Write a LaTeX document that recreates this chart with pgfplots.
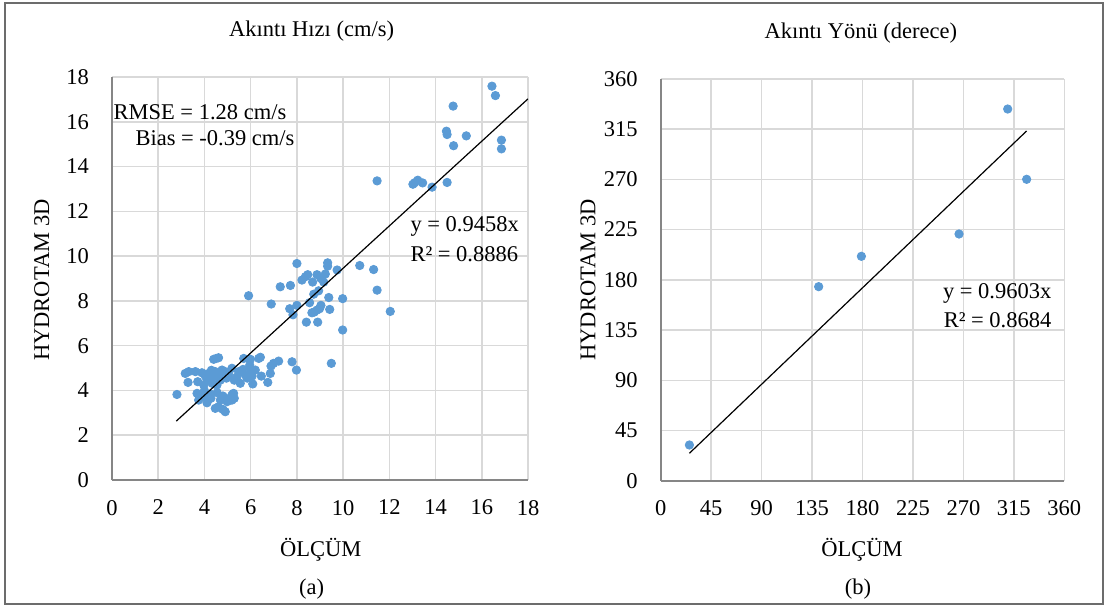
\documentclass[border=0pt]{standalone}
\usepackage{pgfplots}
\pgfplotsset{compat=1.18}
\usepackage{fontspec}
\setmainfont{Liberation Serif}
\definecolor{ptblue}{HTML}{5B9BD5}
\definecolor{gridc}{HTML}{D9D9D9}
\definecolor{axc}{HTML}{868686}
\pgfplotsset{
  common/.style={
    scale only axis,
    axis x line*=bottom, axis y line*=left,
    axis line style={draw=axc, line width=1pt, -},
    grid=major,
    major grid style={draw=gridc, line width=0.75pt},
    major tick length=0pt,
    tick style={draw=none},
    /pgf/number format/assume math mode=true,
    xticklabel style={yshift=-6.5pt},
    yticklabel style={xshift=-8pt},
    title style={anchor=center},
    clip mode=individual,
  }
}
\begin{document}
\begin{tikzpicture}[font=\fontsize{11.25}{13}\selectfont]
\path[use as bounding box] (0,0) rectangle (553pt,302.5pt);
\draw[draw=gray!85!black, line width=0.9pt] (2.65pt,0.45pt) rectangle (551.6pt,300.85pt);

\begin{axis}[common,
  at={(56pt,62.5pt)}, anchor=south west,
  width=208pt, height=201.5pt,
  xmin=0, xmax=18, ymin=0, ymax=18,
  xtick={0,2,...,18}, ytick={0,2,...,18},
  title={Akıntı Hızı (cm/s)},
  title style={at={(axis description cs:0.4796,1.084)}},
  xlabel={ÖLÇÜM},
  xlabel style={at={(axis description cs:0.502,-0.174)}, anchor=center},
  ylabel={HYDROTAM 3D},
  ylabel style={at={(axis description cs:-0.169,0.496)}, anchor=center, rotate=0},
]
\addplot[only marks, mark=*, mark size=2.1pt, mark options={draw=ptblue, fill=ptblue}] coordinates {
(16.44,17.59) (16.59,17.17) (14.76,16.70) (14.47,15.58) (14.50,15.43) (15.33,15.37)
(14.78,14.93) (16.85,15.18) (16.85,14.79)
(11.47,13.36) (13.02,13.21) (13.10,13.28) (13.23,13.39) (13.44,13.27) (13.85,13.08) (14.50,13.29)
(8.00,9.67) (9.33,9.70) (9.33,9.55) (9.74,9.38) (10.72,9.58) (11.32,9.40)
(9.23,9.20) (8.87,9.17) (8.47,9.17) (8.37,9.08) (8.22,8.93) (9.04,9.00) (9.16,8.84)
(8.68,8.84) (7.72,8.69) (7.28,8.63) (8.94,8.45) (8.73,8.30) (11.47,8.48) (5.91,8.23)
(9.38,8.15) (9.98,8.10) (8.55,7.92) (6.89,7.86) (8.00,7.80) (7.69,7.65) (9.04,7.80)
(8.98,7.65) (9.42,7.62) (8.87,7.59) (8.65,7.47) (12.04,7.53) (7.83,7.38) (8.41,7.05)
(8.90,7.05) (9.98,6.70) (8.75,7.50)
(7.79,5.28) (7.98,4.91) (9.49,5.21) (7.21,5.31) (6.99,5.21) (6.88,5.09) (6.85,4.76)
(6.74,4.36) (6.46,4.64) (6.42,5.48) (6.35,5.43) (6.20,4.91) (6.06,4.64) (6.09,4.29)
(5.99,5.39) (5.96,5.13) (5.70,5.43) (5.67,4.94) (5.77,4.69) (5.55,4.32) (5.48,4.84)
(5.29,4.46) (5.19,4.99) (4.90,4.84) (4.51,5.43) (4.61,5.46) (4.40,5.39) (5.40,4.60)
(5.05,4.70) (5.60,4.85) (5.85,4.55) (6.00,4.95)
(3.17,4.76) (3.32,4.84) (3.61,4.84) (3.29,4.36) (3.71,4.39) (3.89,4.79) (4.04,4.64)
(4.11,4.46) (4.18,4.76) (4.25,4.54) (4.33,4.32) (4.40,4.61) (4.54,4.24) (4.61,4.76)
(4.76,4.91) (4.83,4.69) (4.69,4.46) (4.47,4.84) (3.97,4.24) (4.95,4.55) (4.30,4.90)
(2.81,3.82) (3.68,3.87) (3.75,3.57) (4.00,3.99) (4.11,3.45) (4.18,3.72) (4.28,3.65)
(4.25,3.84) (4.47,3.20) (4.61,3.27) (4.69,3.57) (4.80,3.75) (4.90,3.05) (4.80,3.15)
(4.98,3.50) (5.09,3.65) (5.19,3.57) (5.29,3.65) (5.26,3.87) (5.19,3.80) (5.12,3.57)
(4.55,3.90) (3.85,3.70)
};
\addplot[black, line width=0.6pt, no marks] coordinates {(2.78,2.629) (18,17.024)};
\node[anchor=west, inner sep=0pt] at (axis cs:0.05,16.43) {RMSE = 1.28 cm/s};
\node[anchor=west, inner sep=0pt] at (axis cs:1.0,15.27) {Bias = -0.39 cm/s};
\node[anchor=west, inner sep=0pt] at (axis cs:12.9,11.31) {y = 0.9458x};
\node[anchor=west, inner sep=0pt] at (axis cs:12.9,10.09) {R² = 0.8886};
\node[anchor=center] at (axis description cs:0.48,-0.27) {(a)};
\end{axis}

\begin{axis}[common,
  at={(330.35pt,62.15pt)}, anchor=south west,
  width=201.8pt, height=200.85pt,
  xmin=0, xmax=360, ymin=0, ymax=360,
  xtick={0,45,...,360}, ytick={0,45,...,360},
  title={Akıntı Yönü (derece)},
  title style={at={(axis description cs:0.496,1.085)}},
  xlabel={ÖLÇÜM},
  xlabel style={at={(axis description cs:0.4985,-0.1725)}, anchor=center},
  ylabel={HYDROTAM 3D},
  ylabel style={at={(axis description cs:-0.180,0.4996)}, anchor=center, rotate=0},
]
\addplot[only marks, mark=*, mark size=2.1pt, mark options={draw=ptblue, fill=ptblue}] coordinates {
(25.6,32.0) (140.9,173.9) (179.0,201.1) (266.1,221.1) (309.5,333.1) (326.4,270.1)
};
\addplot[black, line width=0.6pt, no marks] coordinates {(25.6,24.58) (326.4,313.44)};
\node[anchor=east, inner sep=0pt] at (axis cs:348.8,167.9) {y = 0.9603x};
\node[anchor=east, inner sep=0pt] at (axis cs:348.8,144.0) {R² = 0.8684};
\node[anchor=center] at (axis description cs:0.489,-0.2696) {(b)};
\end{axis}
\end{tikzpicture}
\end{document}
